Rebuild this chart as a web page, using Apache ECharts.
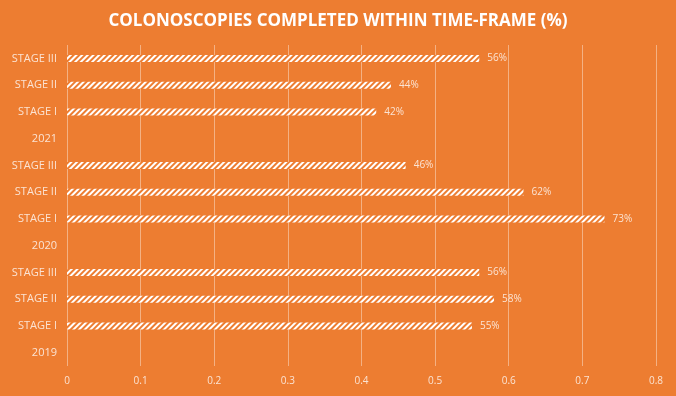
<!DOCTYPE html>
<html>
<head>
<meta charset="utf-8">
<script src="https://cdn.jsdelivr.net/npm/echarts@6/dist/echarts.min.js"></script>
<style>
  html, body { margin: 0; padding: 0; background: #ED7D31; }
  #chart { width: 676px; height: 396px; }
</style>
</head>
<body>
<div id="chart"></div>
<script>
// categories from bottom to top (year rows carry no bar)
const categories = [
  '2019', 'STAGE I', 'STAGE II', 'STAGE III',
  '2020', 'STAGE I', 'STAGE II', 'STAGE III',
  '2021', 'STAGE I', 'STAGE II', 'STAGE III'
]
// completion share per row, '-' for the year headers
const values = [
  '-', 0.55, 0.58, 0.56,
  '-', 0.73, 0.62, 0.46,
  '-', 0.42, 0.44, 0.56
]
const xTicks = { min: 0, max: 0.8, interval: 0.1 }

const orange = '#ED7D31'
const chart = echarts.init(document.getElementById('chart'))

// unique keys so duplicate names stay as separate rows
const keys = categories.map((c, i) => i + '|' + c)

chart.setOption({
  backgroundColor: orange,
  title: {
    text: 'COLONOSCOPIES COMPLETED WITHIN TIME-FRAME (%)',
    left: 'center',
    top: 8,
    textStyle: {
      color: '#fff',
      fontFamily: 'Open Sans',
      fontWeight: 'bold',
      fontSize: 17
    }
  },
  grid: { left: 67, right: 20, top: 45, bottom: 30 },
  xAxis: {
    type: 'value',
    min: xTicks.min,
    max: xTicks.max,
    interval: xTicks.interval,
    axisLine: { show: false },
    axisTick: { show: false },
    axisLabel: {
      color: '#FBE3D3',
      fontFamily: 'Open Sans',
      fontSize: 10,
      margin: 10,
      formatter: v => String(Math.round(v * 10) / 10)
    },
    splitLine: { lineStyle: { color: 'rgba(255,255,255,0.4)', width: 1 } }
  },
  yAxis: {
    type: 'category',
    data: keys,
    axisLine: { show: false },
    axisTick: { show: false },
    axisLabel: {
      color: '#FBE3D3',
      fontFamily: 'Open Sans',
      fontSize: 11,
      margin: 10,
      formatter: v => v.split('|')[1]
    }
  },
  series: [{
    type: 'bar',
    data: values,
    barWidth: 7,
    itemStyle: {
      color: orange,
      decal: {
        symbol: 'rect',
        symbolSize: 1,
        dashArrayX: [1, 0],
        dashArrayY: [2, 1.5],
        rotation: -Math.PI / 4,
        color: '#fff',
        backgroundColor: orange
      }
    },
    label: {
      show: true,
      position: 'right',
      distance: 8,
      color: '#FBE3D3',
      fontFamily: 'Open Sans',
      fontSize: 10,
      formatter: p => Math.round(p.value * 100) + '%'
    }
  }]
})
</script>
</body>
</html>
